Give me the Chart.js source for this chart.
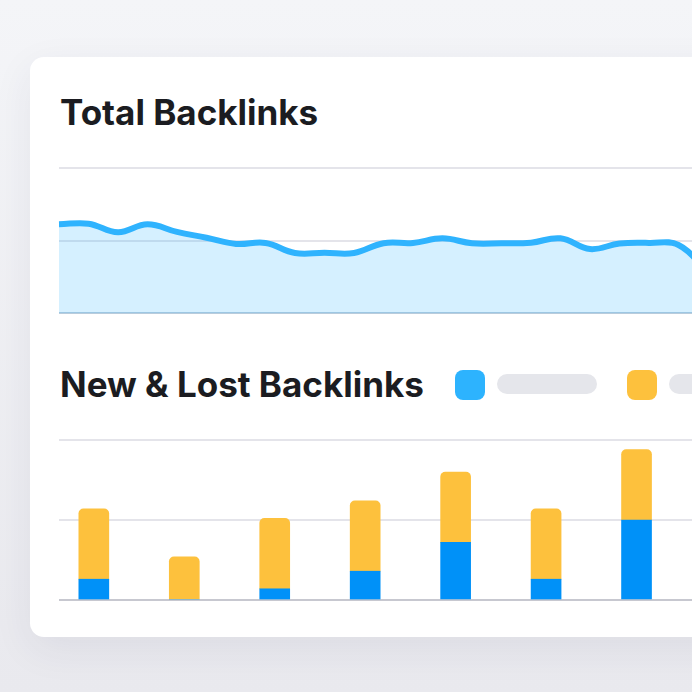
<!DOCTYPE html>
<html>
<head>
<meta charset="utf-8">
<script src="https://cdn.jsdelivr.net/npm/chart.js@4.4.0/dist/chart.umd.min.js"></script>
<style>
  html, body { margin: 0; padding: 0; width: 692px; height: 692px; overflow: hidden; }
  body {
    background: linear-gradient(180deg, #f4f5f8 0%, #e9e9ee 100%);
    font-family: Inter, "Noto Sans", sans-serif;
    position: relative;
  }
  .card {
    position: absolute; left: 30px; top: 57px; width: 760px; height: 580px;
    background: #fff; border-radius: 14px;
    box-shadow: 0 12px 40px rgba(40, 45, 80, 0.07);
  }
  .title {
    position: absolute; left: 60px; margin: 0;
    font-size: 35px; line-height: 1; font-weight: 700; color: #1b1c21;
    letter-spacing: 0; white-space: nowrap;
  }
  .swatch { position: absolute; width: 30px; height: 30px; border-radius: 8px; }
  .pill { position: absolute; width: 100px; height: 20px; border-radius: 10px; background: #e5e6eb; }
  canvas { position: absolute; left: 0; }
</style>
</head>
<body>
<div class="card"></div>
<h1 class="title" style="top:95px">Total Backlinks</h1>
<canvas id="totalChart" width="760" height="180" style="top:150px"></canvas>
<h2 class="title" style="top:367px">New &amp; Lost Backlinks</h2>
<div class="swatch" style="left:455px;top:370px;background:#2db3fe"></div>
<div class="pill" style="left:497px;top:374px"></div>
<div class="swatch" style="left:627px;top:370px;background:#fdc13d"></div>
<div class="pill" style="left:669px;top:374px"></div>
<canvas id="newLostChart" width="760" height="200" style="top:420px"></canvas>
<script>
// Total backlinks, one point per week
const weeks = ['W1','W2','W3','W4','W5','W6','W7','W8','W9','W10','W11','W12',
               'W13','W14','W15','W16','W17','W18','W19','W20','W21','W22','W23'];
const totalBacklinks = [61.2, 61.6, 55.7, 61.2, 55.9, 51.9, 47.6, 48.3, 41.4, 41.6, 41.4, 48.1,
                        48.3, 51.5, 48.1, 48.1, 48.5, 51.5, 44.1, 47.9, 48.3, 46.9, 28.3];

// New & lost backlinks per period
const periods = [1, 2, 3, 4, 5, 6, 7];
const newBacklinks = [13, 0, 7, 18, 36, 13, 50];
const lostBacklinks = [44, 27, 44, 44, 44, 44, 44];

const gridColor = '#e4e4ea';

new Chart(document.getElementById('totalChart'), {
  type: 'line',
  data: {
    labels: weeks,
    datasets: [{
      data: totalBacklinks,
      borderColor: '#2fb3fe',
      backgroundColor: 'rgba(46, 180, 255, 0.2)',
      borderWidth: 6,
      fill: 'start',
      tension: 0.4,
      pointRadius: 0
    }]
  },
  options: {
    responsive: false,
    animation: false,
    devicePixelRatio: 1,
    layout: { padding: { left: 59, right: 52, top: 18, bottom: 17 } },
    plugins: { legend: { display: false }, tooltip: { enabled: false } },
    scales: {
      x: { display: false, offset: false },
      y: {
        min: 0, max: 100,
        ticks: { stepSize: 50, display: false },
        grid: {
          color: c => c.tick.value === 0 ? '#b9ccdc' : gridColor,
          lineWidth: 2, drawTicks: false
        },
        border: { display: false }
      }
    }
  }
});

new Chart(document.getElementById('newLostChart'), {
  type: 'bar',
  data: {
    datasets: [{
      label: 'New',
      data: periods.map((p, i) => ({ x: p, y: newBacklinks[i] })),
      backgroundColor: '#0091f8',
      barThickness: 30
    }, {
      label: 'Lost',
      data: periods.map((p, i) => ({ x: p, y: lostBacklinks[i] })),
      backgroundColor: '#fdc13d',
      barThickness: 30,
      borderRadius: { topLeft: 5, topRight: 5 },
      borderSkipped: 'start'
    }]
  },
  options: {
    responsive: false,
    animation: false,
    devicePixelRatio: 1,
    layout: { padding: { left: 59, right: 0, top: 20, bottom: 20 } },
    plugins: { legend: { display: false }, tooltip: { enabled: false } },
    scales: {
      x: { type: 'linear', display: false, stacked: true, offset: false, min: 0.615, max: 8.365 },
      y: {
        stacked: true,
        min: 0, max: 100,
        ticks: { stepSize: 50, display: false },
        grid: {
          color: c => c.tick.value === 0 ? '#c7c8d0' : gridColor,
          lineWidth: 2, drawTicks: false
        },
        border: { display: false }
      }
    }
  }
});
</script>
</body>
</html>
